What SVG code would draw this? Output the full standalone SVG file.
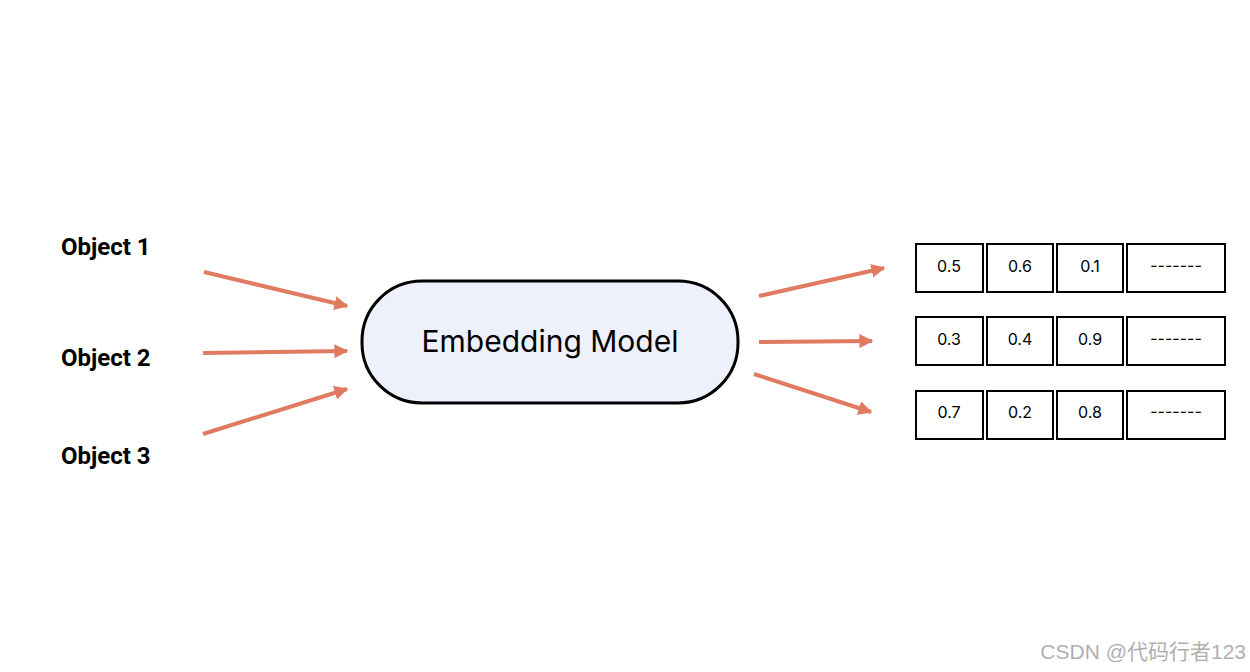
<svg xmlns="http://www.w3.org/2000/svg" width="1250" height="672" viewBox="0 0 1250 672">
<style>
.obj{font-family:Roboto,"Liberation Sans",sans-serif;font-weight:bold;font-size:24px;fill:#000}
.cell{fill:#fff;stroke:#000;stroke-width:2}
.ct{font-family:Inter,"Liberation Sans",sans-serif;font-size:16px;fill:#000;text-anchor:middle}
.arr{stroke:#e07b62;stroke-width:4;fill:none;marker-end:url(#ah)}
</style>
<defs><marker id="ah" viewBox="0 0 10 10" refX="9" refY="5" markerWidth="3.5" markerHeight="3.5" orient="auto" markerUnits="strokeWidth"><path d="M0,0L10,5L0,10z" fill="#e07b62"/></marker></defs>
<rect width="1250" height="672" fill="#fff"/>
<g id="objects">
<text class="obj" x="61" y="255">Object 1</text>
<text class="obj" x="61" y="366">Object 2</text>
<text class="obj" x="61" y="464">Object 3</text>
</g>
<g id="model">
<rect x="362" y="281" width="376" height="122" rx="60" fill="#eef1fc" stroke="#000" stroke-width="3"/>
<text x="550" y="352" font-family="Inter,'Liberation Sans',sans-serif" font-size="30" text-anchor="middle">Embedding Model</text>
</g>
<g id="connectors">
<line class="arr" x1="204" y1="272" x2="347" y2="306"/>
<line class="arr" x1="203" y1="353" x2="347" y2="351"/>
<line class="arr" x1="203" y1="434" x2="347" y2="389"/>
<line class="arr" x1="759" y1="296" x2="884" y2="268"/>
<line class="arr" x1="759" y1="342" x2="872" y2="341"/>
<line class="arr" x1="754" y1="374" x2="871" y2="412"/>
</g>
<g id="vectors">
<rect class="cell" x="916" y="244" width="67" height="48"/><rect class="cell" x="987" y="244" width="66" height="48"/><rect class="cell" x="1057" y="244" width="66" height="48"/><rect class="cell" x="1127" y="244" width="98" height="48"/>
<text class="ct" x="949" y="272">0.5</text><text class="ct" x="1020" y="272">0.6</text><text class="ct" x="1090" y="272">0.1</text><text class="ct" x="1176" y="271">-------</text>
<rect class="cell" x="916" y="317" width="67" height="48"/><rect class="cell" x="987" y="317" width="66" height="48"/><rect class="cell" x="1057" y="317" width="66" height="48"/><rect class="cell" x="1127" y="317" width="98" height="48"/>
<text class="ct" x="949" y="345">0.3</text><text class="ct" x="1020" y="345">0.4</text><text class="ct" x="1090" y="345">0.9</text><text class="ct" x="1176" y="344">-------</text>
<rect class="cell" x="916" y="391" width="67" height="48"/><rect class="cell" x="987" y="391" width="66" height="48"/><rect class="cell" x="1057" y="391" width="66" height="48"/><rect class="cell" x="1127" y="391" width="98" height="48"/>
<text class="ct" x="949" y="418">0.7</text><text class="ct" x="1020" y="418">0.2</text><text class="ct" x="1090" y="418">0.8</text><text class="ct" x="1176" y="417">-------</text>
</g>
<text x="1246" y="659" text-anchor="end" font-family="'Liberation Sans','Noto Sans CJK SC',sans-serif" font-size="21" fill="#b0b0b0">CSDN @代码行者123</text>
</svg>
